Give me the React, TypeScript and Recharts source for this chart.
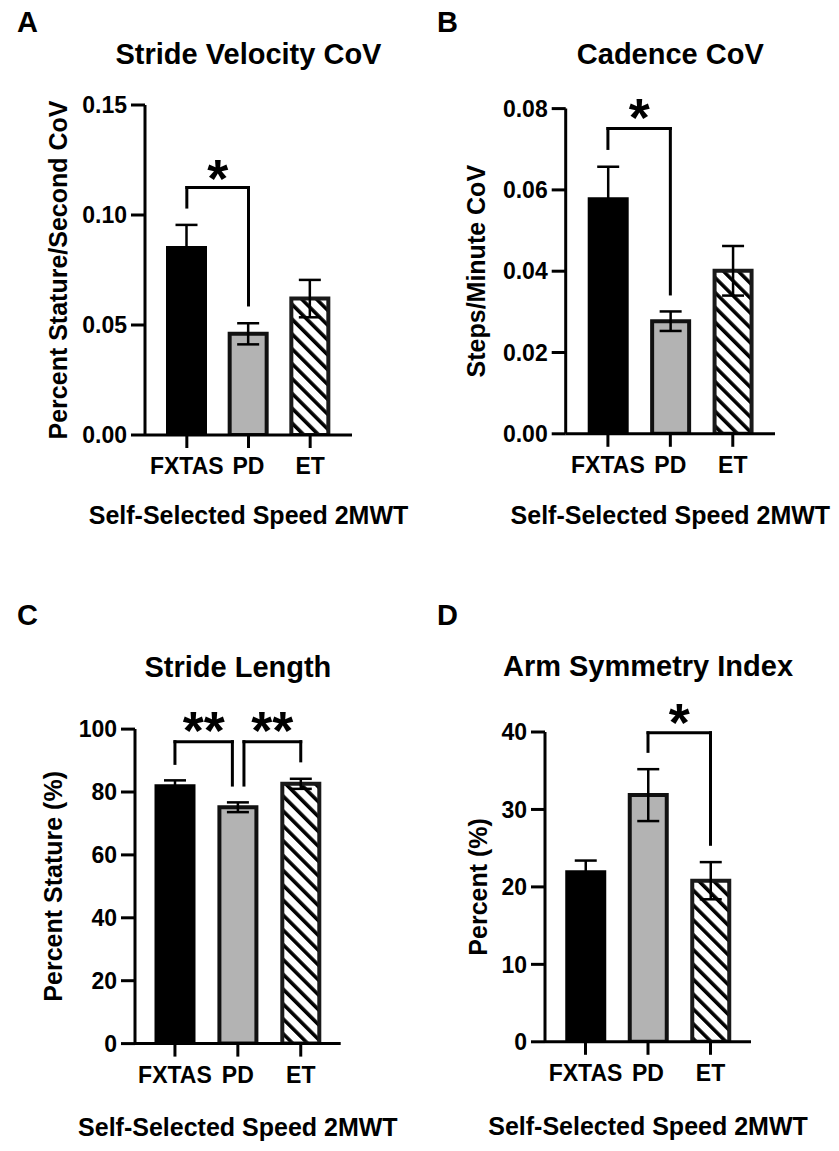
import React from 'react';
import { BarChart, Bar, XAxis, YAxis, ErrorBar, Cell, ReferenceLine, ReferenceDot } from 'recharts';

// ---------- data ----------
const categories = ['FXTAS', 'PD', 'ET'];

const strideVelocityMean = [0.085, 0.046, 0.062];
const strideVelocityErr = [0.0105, 0.0048, 0.0085];

const cadenceMean = [0.0577, 0.0277, 0.0401];
const cadenceErr = [0.008, 0.0024, 0.0061];

const strideLengthMean = [81.8, 75.15, 82.6];
const strideLengthErr = [1.9, 1.55, 1.6];

const armSymmetryMean = [21.9, 31.85, 20.8];
const armSymmetryErr = [1.5, 3.35, 2.4];

const ticksA = [0, 0.05, 0.1, 0.15];
const ticksB = [0, 0.02, 0.04, 0.06, 0.08];
const ticksC = [0, 20, 40, 60, 80, 100];
const ticksD = [0, 10, 20, 30, 40];

// significance brackets: from/to are category indices, values in data units
const bracketsA = [{ from: 0, to: 1, top: 0.1125, leftEnd: 0.1036, rightEnd: 0.0591, mark: '*' }];
const bracketsB = [{ from: 0, to: 1, top: 0.0751, leftEnd: 0.0702, rightEnd: 0.0344, mark: '*' }];
const bracketsC = [
  { from: 0, to: 0.913, top: 96.0, leftEnd: 89.1, rightEnd: 82.2, mark: '**' },
  { from: 1.097, to: 2, top: 96.0, leftEnd: 82.2, rightEnd: 89.9, mark: '**' },
];
const bracketsD = [{ from: 1, to: 2, top: 39.9, leftEnd: 37.5, rightEnd: 25.5, mark: '*' }];

const panelLetters = ['A', 'B', 'C', 'D'];
const titles = ['Stride Velocity CoV', 'Cadence CoV', 'Stride Length', 'Arm Symmetry Index'];
const yLabels = ['Percent Stature/Second CoV', 'Steps/Minute CoV', 'Percent Stature (%)', 'Percent (%)'];
const xLabel = 'Self-Selected Speed 2MWT';

// ---------- styles ----------
const FONT = '"Liberation Sans", Arial, Helvetica, sans-serif';
const barFills = ['#000000', '#b3b3b3', 'url(#hatchET)'];
const barStrokes = ['#000000', '#111111', '#1a1a1a'];

const makeRows = (means: number[], errs: number[]) =>
  categories.map((c, i) => ({ cat: c, idx: i, mean: means[i], err: errs[i] }));

type Bracket = { from: number; to: number; top: number; leftEnd: number; rightEnd: number; mark: string };

type PanelProps = {
  left: number;
  top: number;
  rows: any[];
  ticks: number[];
  decimals: number;
  brackets: Bracket[];
  margin: { top: number; right: number; bottom: number; left: number };
  yWidth: number;
  pad: number;
  yLabel: string;
  yLabelDist: number;
  xLabelDist: number;
  starGap: number;
};

const axisStroke = { stroke: '#000', strokeWidth: 3 };
const tickStyle = { fill: '#000', fontSize: 23, fontWeight: 700, fontFamily: FONT };

function Panel(p: PanelProps) {
  const domain = [p.ticks[0], p.ticks[p.ticks.length - 1]];
  return (
    <div style={{ position: 'absolute', left: p.left, top: p.top, width: 420, height: 575 }}>
      <BarChart width={420} height={575} data={p.rows} margin={p.margin}>
        <YAxis
          type="number"
          domain={domain}
          ticks={p.ticks}
          interval={0}
          width={p.yWidth}
          tickFormatter={(v: number) => v.toFixed(p.decimals)}
          tick={tickStyle}
          tickSize={14}
          tickMargin={4}
          axisLine={axisStroke}
          tickLine={axisStroke}
          allowDataOverflow
          label={(lp: any) => {
            const vb = lp.viewBox || {};
            const x = vb.x + vb.width - p.yLabelDist;
            const y = vb.y + vb.height / 2;
            return (
              <text
                transform={`translate(${x}, ${y}) rotate(-90)`}
                textAnchor="middle"
                fontSize={25}
                fontWeight={700}
                fontFamily={FONT}
                fill="#000"
              >
                {p.yLabel}
              </text>
            );
          }}
        />
        <XAxis
          xAxisId="n"
          type="number"
          dataKey="idx"
          domain={[-0.5, 2.5]}
          allowDataOverflow
          hide
          padding={{ left: p.pad, right: p.pad }}
        />
        <Bar dataKey="mean" barSize={37} strokeWidth={4} isAnimationActive={false}>
          {p.rows.map((r, i) => (
            <Cell key={r.cat} fill={barFills[i]} stroke={barStrokes[i]} />
          ))}
          <ErrorBar dataKey="err" width={11} strokeWidth={2.5} stroke="#000" direction="y" isAnimationActive={false} />
        </Bar>
        <XAxis
          dataKey="cat"
          type="category"
          interval={0}
          height={100}
          padding={{ left: p.pad, right: p.pad }}
          tick={tickStyle}
          tickSize={13}
          tickMargin={10}
          axisLine={axisStroke}
          tickLine={axisStroke}
          label={(lp: any) => {
            const vb = lp.viewBox || {};
            return (
              <text
                x={vb.x + vb.width / 2}
                y={vb.y + p.xLabelDist}
                textAnchor="middle"
                fontSize={25}
                fontWeight={700}
                fontFamily={FONT}
                fill="#000"
              >
                {xLabel}
              </text>
            );
          }}
        />
        {p.brackets.flatMap((b, k) => [
          <ReferenceLine
            key={`l${k}`}
            xAxisId="n"
            ifOverflow="visible"
            segment={[{ x: b.from, y: b.leftEnd }, { x: b.from, y: b.top }]}
            stroke="#000"
            strokeWidth={3}
            strokeLinecap="square"
          />,
          <ReferenceLine
            key={`t${k}`}
            xAxisId="n"
            ifOverflow="visible"
            segment={[{ x: b.from, y: b.top }, { x: b.to, y: b.top }]}
            stroke="#000"
            strokeWidth={3}
            strokeLinecap="square"
          />,
          <ReferenceLine
            key={`r${k}`}
            xAxisId="n"
            ifOverflow="visible"
            segment={[{ x: b.to, y: b.top }, { x: b.to, y: b.rightEnd }]}
            stroke="#000"
            strokeWidth={3}
            strokeLinecap="square"
          />,
          <ReferenceDot
            key={`s${k}`}
            xAxisId="n"
            ifOverflow="visible"
            x={(b.from + b.to) / 2}
            y={b.top}
            r={0}
            shape={(sp: any) => (
              <text
                x={sp.cx}
                y={sp.cy - p.starGap + 29}
                textAnchor="middle"
                fontSize={54}
                fontWeight={700}
                fontFamily={FONT}
                fill="#000"
              >
                {b.mark}
              </text>
            )}
          />,
        ])}
      </BarChart>
    </div>
  );
}

export default function App() {
  const textStyle = { fontFamily: FONT, fontWeight: 700, fill: '#000' } as const;
  return (
    <div
      style={{
        position: 'absolute',
        left: 0,
        top: 0,
        width: 839,
        height: 1151,
        background: '#fff',
        overflow: 'hidden',
        fontFamily: FONT,
      }}
    >
      <svg width={0} height={0} style={{ position: 'absolute' }}>
        <defs>
          <pattern id="hatchET" patternUnits="userSpaceOnUse" width={10.5} height={10.5} patternTransform="rotate(-45)">
            <rect x={0} y={0} width={10.5} height={10.5} fill="#ffffff" />
            <rect x={0} y={0} width={3.6} height={10.5} fill="#000000" />
          </pattern>
        </defs>
      </svg>

      <Panel
        left={0}
        top={0}
        rows={makeRows(strideVelocityMean, strideVelocityErr)}
        ticks={ticksA}
        decimals={2}
        brackets={bracketsA}
        margin={{ top: 105, right: 68, bottom: 40, left: 0 }}
        yWidth={145}
        pad={11}
        yLabel={yLabels[0]}
        yLabelDist={78}
        xLabelDist={89}
        starGap={20}
      />
      <Panel
        left={420}
        top={0}
        rows={makeRows(cadenceMean, cadenceErr)}
        ticks={ticksB}
        decimals={2}
        brackets={bracketsB}
        margin={{ top: 108.6, right: 65, bottom: 41.2, left: 0 }}
        yWidth={145.7}
        pad={11}
        yLabel={yLabels[1]}
        yLabelDist={80.7}
        xLabelDist={90}
        starGap={21.7}
      />
      <Panel
        left={0}
        top={575}
        rows={makeRows(strideLengthMean, strideLengthErr)}
        ticks={ticksC}
        decimals={0}
        brackets={bracketsC}
        margin={{ top: 154.1, right: 79.3, bottom: 6.4, left: 0 }}
        yWidth={135}
        pad={8.5}
        yLabel={yLabels[2]}
        yLabelDist={73.3}
        xLabelDist={92.4}
        starGap={21.7}
      />
      <Panel
        left={420}
        top={575}
        rows={makeRows(armSymmetryMean, armSymmetryErr)}
        ticks={ticksD}
        decimals={0}
        brackets={bracketsD}
        margin={{ top: 157, right: 89, bottom: 8.2, left: 0 }}
        yWidth={125}
        pad={9.25}
        yLabel={yLabels[3]}
        yLabelDist={58.3}
        xLabelDist={93}
        starGap={20.6}
      />

      <svg width={839} height={1151} style={{ position: 'absolute', left: 0, top: 0, pointerEvents: 'none' }}>
        <text x={17} y={32} fontSize={29} {...textStyle}>{panelLetters[0]}</text>
        <text x={437} y={32} fontSize={29} {...textStyle}>{panelLetters[1]}</text>
        <text x={17} y={625} fontSize={29} {...textStyle}>{panelLetters[2]}</text>
        <text x={437} y={625} fontSize={29} {...textStyle}>{panelLetters[3]}</text>
        <text x={248.5} y={64} fontSize={29} textAnchor="middle" {...textStyle}>{titles[0]}</text>
        <text x={670.3} y={64} fontSize={29} textAnchor="middle" {...textStyle}>{titles[1]}</text>
        <text x={237.9} y={676.5} fontSize={29} textAnchor="middle" {...textStyle}>{titles[2]}</text>
        <text x={648} y={676} fontSize={29} textAnchor="middle" {...textStyle}>{titles[3]}</text>
      </svg>
    </div>
  );
}
